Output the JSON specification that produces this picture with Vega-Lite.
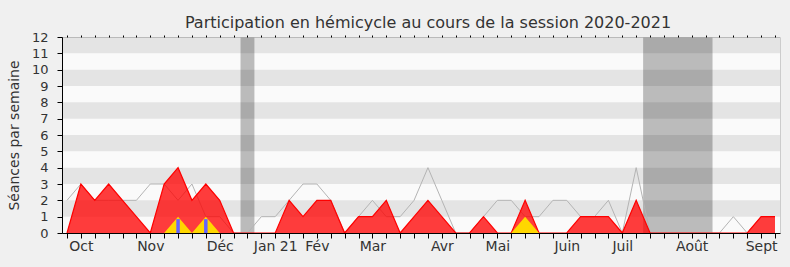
{
  "$schema": "https://vega.github.io/schema/vega-lite/v6.json",
  "width": 718,
  "height": 196,
  "autosize": "none",
  "padding": {"left": 62, "top": 37, "right": 10, "bottom": 34},
  "background": "#f0f0f0",
  "config": {
    "font": "DejaVu Sans",
    "view": {"fill": "#fafafa", "stroke": "#cccccc"},
    "axis": {"labelOverlap": false, "labelFlush": false, "grid": false},
    "axisY": {"labelOverlap": false}
  },
  "title": {
    "text": "Participation en hémicycle au cours de la session 2020-2021",
    "fontSize": 16,
    "fontWeight": "normal",
    "color": "#333333",
    "anchor": "middle",
    "baseline": "bottom",
    "offset": 6,
    "dx": 7,
    "dy": 22
  },
  "datasets": {
    "semaines": [
      {"semaine": 0, "presences": 0, "mediane": 2, "interventions": 0, "questions": 0},
      {"semaine": 1, "presences": 3, "mediane": 3, "interventions": 0, "questions": 0},
      {"semaine": 2, "presences": 2, "mediane": 2, "interventions": 0, "questions": 0},
      {"semaine": 3, "presences": 3, "mediane": 2, "interventions": 0, "questions": 0},
      {"semaine": 4, "presences": 2, "mediane": 2, "interventions": 0, "questions": 0},
      {"semaine": 5, "presences": 1, "mediane": 2, "interventions": 0, "questions": 0},
      {"semaine": 6, "presences": 0, "mediane": 3, "interventions": 0, "questions": 0},
      {"semaine": 7, "presences": 3, "mediane": 3, "interventions": 0, "questions": 0},
      {"semaine": 8, "presences": 4, "mediane": 2, "interventions": 1, "questions": 0.85},
      {"semaine": 9, "presences": 2, "mediane": 3, "interventions": 0, "questions": 0},
      {"semaine": 10, "presences": 3, "mediane": 1, "interventions": 1, "questions": 0.85},
      {"semaine": 11, "presences": 2, "mediane": 1, "interventions": 0, "questions": 0},
      {"semaine": 12, "presences": 0, "mediane": 0, "interventions": 0, "questions": 0},
      {"semaine": 13, "presences": 0, "mediane": 0, "interventions": 0, "questions": 0},
      {"semaine": 14, "presences": 0, "mediane": 1, "interventions": 0, "questions": 0},
      {"semaine": 15, "presences": 0, "mediane": 1, "interventions": 0, "questions": 0},
      {"semaine": 16, "presences": 2, "mediane": 2, "interventions": 0, "questions": 0},
      {"semaine": 17, "presences": 1, "mediane": 3, "interventions": 0, "questions": 0},
      {"semaine": 18, "presences": 2, "mediane": 3, "interventions": 0, "questions": 0},
      {"semaine": 19, "presences": 2, "mediane": 2, "interventions": 0, "questions": 0},
      {"semaine": 20, "presences": 0, "mediane": 0, "interventions": 0, "questions": 0},
      {"semaine": 21, "presences": 1, "mediane": 1, "interventions": 0, "questions": 0},
      {"semaine": 22, "presences": 1, "mediane": 2, "interventions": 0, "questions": 0},
      {"semaine": 23, "presences": 2, "mediane": 1, "interventions": 0, "questions": 0},
      {"semaine": 24, "presences": 0, "mediane": 1, "interventions": 0, "questions": 0},
      {"semaine": 25, "presences": 1, "mediane": 2, "interventions": 0, "questions": 0},
      {"semaine": 26, "presences": 2, "mediane": 4, "interventions": 0, "questions": 0},
      {"semaine": 27, "presences": 1, "mediane": 2, "interventions": 0, "questions": 0},
      {"semaine": 28, "presences": 0, "mediane": 0, "interventions": 0, "questions": 0},
      {"semaine": 29, "presences": 0, "mediane": 0, "interventions": 0, "questions": 0},
      {"semaine": 30, "presences": 1, "mediane": 1, "interventions": 0, "questions": 0},
      {"semaine": 31, "presences": 0, "mediane": 2, "interventions": 0, "questions": 0},
      {"semaine": 32, "presences": 0, "mediane": 2, "interventions": 0, "questions": 0},
      {"semaine": 33, "presences": 2, "mediane": 1, "interventions": 1, "questions": 0},
      {"semaine": 34, "presences": 0, "mediane": 1, "interventions": 0, "questions": 0},
      {"semaine": 35, "presences": 0, "mediane": 2, "interventions": 0, "questions": 0},
      {"semaine": 36, "presences": 0, "mediane": 2, "interventions": 0, "questions": 0},
      {"semaine": 37, "presences": 1, "mediane": 1, "interventions": 0, "questions": 0},
      {"semaine": 38, "presences": 1, "mediane": 1, "interventions": 0, "questions": 0},
      {"semaine": 39, "presences": 1, "mediane": 2, "interventions": 0, "questions": 0},
      {"semaine": 40, "presences": 0, "mediane": 0, "interventions": 0, "questions": 0},
      {"semaine": 41, "presences": 2, "mediane": 4, "interventions": 0, "questions": 0},
      {"semaine": 42, "presences": 0, "mediane": 0, "interventions": 0, "questions": 0},
      {"semaine": 43, "presences": 0, "mediane": 0, "interventions": 0, "questions": 0},
      {"semaine": 44, "presences": 0, "mediane": 0, "interventions": 0, "questions": 0},
      {"semaine": 45, "presences": 0, "mediane": 0, "interventions": 0, "questions": 0},
      {"semaine": 46, "presences": 0, "mediane": 0, "interventions": 0, "questions": 0},
      {"semaine": 47, "presences": 0, "mediane": 0, "interventions": 0, "questions": 0},
      {"semaine": 48, "presences": 0, "mediane": 1, "interventions": 0, "questions": 0},
      {"semaine": 49, "presences": 0, "mediane": 0, "interventions": 0, "questions": 0},
      {"semaine": 50, "presences": 1, "mediane": 1, "interventions": 0, "questions": 0},
      {"semaine": 51, "presences": 1, "mediane": 1, "interventions": 0, "questions": 0}
    ],
    "bandes": [
      {"bas": 1, "haut": 2},
      {"bas": 3, "haut": 4},
      {"bas": 5, "haut": 6},
      {"bas": 7, "haut": 8},
      {"bas": 9, "haut": 10},
      {"bas": 11, "haut": 12}
    ],
    "vacances": [
      {"debut": 12.5, "fin": 13.5},
      {"debut": 41.5, "fin": 46.5}
    ]
  },
  "resolve": {"axis": {"x": "independent"}},
  "layer": [
    {
      "data": {"name": "vacances"},
      "mark": {"type": "rect", "color": "#bbbbbb"},
      "encoding": {
        "x": {"field": "debut", "type": "quantitative", "scale": {"domain": [0, 51], "nice": false, "zero": false}, "axis": null},
        "x2": {"field": "fin"}
      }
    },
    {
      "data": {"name": "bandes"},
      "mark": {"type": "rect", "color": "#000000", "opacity": 0.085},
      "encoding": {
        "y": {
          "field": "bas",
          "type": "quantitative",
          "scale": {"domain": [0, 12], "nice": false},
          "axis": {
            "values": [0, 1, 2, 3, 4, 5, 6, 7, 8, 9, 10, 11, 12],
            "labelOverlap": false,
            "domainColor": "#000000",
            "tickColor": "#000000",
            "tickSize": 5,
            "labelFontSize": 13,
            "labelColor": "#333333",
            "labelPadding": 9,
            "title": "Séances par semaine",
            "titleFontSize": 14,
            "titleFontWeight": "normal",
            "titleColor": "#333333",
            "titlePadding": 10,
            "zindex": 1
          }
        },
        "y2": {"field": "haut"}
      }
    },
    {
      "data": {"name": "semaines"},
      "mark": {"type": "line", "color": "#b4b4b4", "strokeWidth": 1},
      "encoding": {
        "x": {
          "field": "semaine",
          "type": "quantitative",
          "axis": {
            "orient": "top",
            "values": [0,1,2,3,4,5,6,7,8,9,10,11,12,13,14,15,16,17,18,19,20,21,22,23,24,25,26,27,28,29,30,31,32,33,34,35,36,37,38,39,40,41,42,43,44,45,46,47,48,49,50,51],
            "labels": false,
            "domain": false,
            "ticks": true,
            "tickSize": 2,
            "tickColor": "#000000",
            "title": null,
            "zindex": 1
          }
        },
        "y": {"field": "mediane", "type": "quantitative", "axis": {"values": [0, 1, 2, 3, 4, 5, 6, 7, 8, 9, 10, 11, 12], "labelOverlap": false}}
      }
    },
    {
      "data": {"name": "semaines"},
      "mark": {"type": "area", "color": "#ff0000", "opacity": 0.76, "line": {"color": "#ff0000", "strokeWidth": 1.2, "opacity": 1}},
      "encoding": {
        "x": {
          "field": "semaine",
          "type": "quantitative",
          "axis": {
            "orient": "bottom",
            "values": [0,1,2,3,4,5,6,7,8,9,10,11,12,13,14,15,16,17,18,19,20,21,22,23,24,25,26,27,28,29,30,31,32,33,34,35,36,37,38,39,40,41,42,43,44,45,46,47,48,49,50,51],
            "labelExpr": "datum.value == 1 ? 'Oct' : datum.value == 6 ? 'Nov' : datum.value == 11 ? 'Déc' : datum.value == 15 ? 'Jan 21' : datum.value == 18 ? 'Fév' : datum.value == 22 ? 'Mar' : datum.value == 27 ? 'Avr' : datum.value == 31 ? 'Mai' : datum.value == 36 ? 'Juin' : datum.value == 40 ? 'Juil' : datum.value == 45 ? 'Août' : datum.value == 50 ? 'Sept' : ''",
            "labelFontSize": 14,
            "labelColor": "#333333",
            "labelPadding": 1,
            "domainColor": "#000000",
            "tickColor": "#000000",
            "tickSize": 5,
            "title": null,
            "zindex": 1
          }
        },
        "y": {"field": "presences", "type": "quantitative", "axis": {"values": [0, 1, 2, 3, 4, 5, 6, 7, 8, 9, 10, 11, 12], "labelOverlap": false}}
      }
    },
    {
      "data": {"name": "semaines"},
      "mark": {"type": "area", "color": "#ffd700", "opacity": 1},
      "encoding": {
        "x": {"field": "semaine", "type": "quantitative", "axis": null},
        "y": {"field": "interventions", "type": "quantitative", "axis": {"values": [0, 1, 2, 3, 4, 5, 6, 7, 8, 9, 10, 11, 12], "labelOverlap": false}}
      }
    },
    {
      "data": {"name": "semaines"},
      "transform": [{"filter": "datum.questions > 0"}],
      "mark": {"type": "bar", "color": "#6464ff", "width": 3.5},
      "encoding": {
        "x": {"field": "semaine", "type": "quantitative", "axis": null},
        "y": {"field": "questions", "type": "quantitative", "axis": {"values": [0, 1, 2, 3, 4, 5, 6, 7, 8, 9, 10, 11, 12], "labelOverlap": false}}
      }
    }
  ]
}
